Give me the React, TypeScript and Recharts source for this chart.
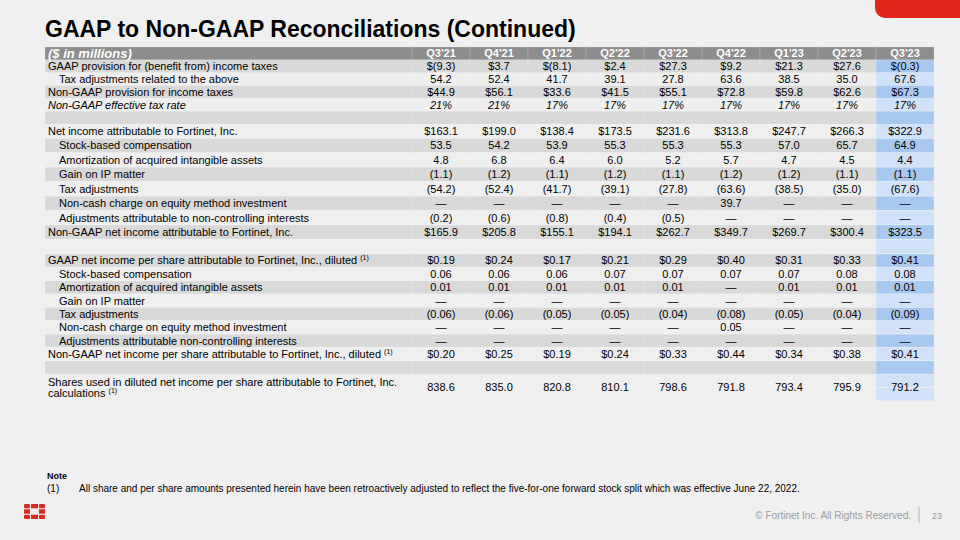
import { ComposedChart, Bar, XAxis, YAxis, Cell, LabelList } from "recharts"

const quarters = ["Q3'21", "Q4'21", "Q1'22", "Q2'22", "Q3'22", "Q4'22", "Q1'23", "Q2'23", "Q3'23"]

// tax provision block
const gaapTaxProvision = [-9.3, 3.7, -8.1, 2.4, 27.3, 9.2, 21.3, 27.6, -0.3]
const taxAdjRelated = [54.2, 52.4, 41.7, 39.1, 27.8, 63.6, 38.5, 35.0, 67.6]
const nonGaapTaxProvision = [44.9, 56.1, 33.6, 41.5, 55.1, 72.8, 59.8, 62.6, 67.3]
const nonGaapTaxRate = [21, 21, 17, 17, 17, 17, 17, 17, 17]

// net income block ($M)
const netIncome = [163.1, 199.0, 138.4, 173.5, 231.6, 313.8, 247.7, 266.3, 322.9]
const stockComp = [53.5, 54.2, 53.9, 55.3, 55.3, 55.3, 57.0, 65.7, 64.9]
const amortization = [4.8, 6.8, 6.4, 6.0, 5.2, 5.7, 4.7, 4.5, 4.4]
const gainOnIp = [-1.1, -1.2, -1.1, -1.2, -1.1, -1.2, -1.2, -1.1, -1.1]
const taxAdjustments = [-54.2, -52.4, -41.7, -39.1, -27.8, -63.6, -38.5, -35.0, -67.6]
const equityCharge = [0, 0, 0, 0, 0, 39.7, 0, 0, 0]
const nciAdjustments = [-0.2, -0.6, -0.8, -0.4, -0.5, 0, 0, 0, 0]
const nonGaapNetIncome = [165.9, 205.8, 155.1, 194.1, 262.7, 349.7, 269.7, 300.4, 323.5]

// per share block
const gaapEps = [0.19, 0.24, 0.17, 0.21, 0.29, 0.40, 0.31, 0.33, 0.41]
const stockCompPs = [0.06, 0.06, 0.06, 0.07, 0.07, 0.07, 0.07, 0.08, 0.08]
const amortizationPs = [0.01, 0.01, 0.01, 0.01, 0.01, 0, 0.01, 0.01, 0.01]
const gainOnIpPs = [0, 0, 0, 0, 0, 0, 0, 0, 0]
const taxAdjustmentsPs = [-0.06, -0.06, -0.05, -0.05, -0.04, -0.08, -0.05, -0.04, -0.09]
const equityChargePs = [0, 0, 0, 0, 0, 0.05, 0, 0, 0]
const nciAdjustmentsPs = [0, 0, 0, 0, 0, 0, 0, 0, 0]
const nonGaapEps = [0.20, 0.25, 0.19, 0.24, 0.33, 0.44, 0.34, 0.38, 0.41]

const dilutedShares = [838.6, 835.0, 820.8, 810.1, 798.6, 791.8, 793.4, 795.9, 791.2]

type Fmt = "usd1" | "num1" | "pct" | "usd2" | "num2"

type Row = {
  key: string
  label?: string
  label2?: string
  values?: number[]
  fmt?: Fmt
  indent?: boolean
  italic?: boolean
  sup?: boolean
  header?: boolean
  cont?: boolean
}

const rows: Row[] = [
  { key: "head", label: "($ in millions)", header: true },
  { key: "gaapTax", label: "GAAP provision for (benefit from) income taxes", values: gaapTaxProvision, fmt: "usd1" },
  { key: "taxRel", label: "Tax adjustments related to the above", values: taxAdjRelated, fmt: "num1", indent: true },
  { key: "ngTax", label: "Non-GAAP provision for income taxes", values: nonGaapTaxProvision, fmt: "usd1" },
  { key: "ngRate", label: "Non-GAAP effective tax rate", values: nonGaapTaxRate, fmt: "pct", italic: true },
  { key: "gap1" },
  { key: "ni", label: "Net income attributable to Fortinet, Inc.", values: netIncome, fmt: "usd1" },
  { key: "sbc", label: "Stock-based compensation", values: stockComp, fmt: "num1", indent: true },
  { key: "amort", label: "Amortization of acquired intangible assets", values: amortization, fmt: "num1", indent: true },
  { key: "ip", label: "Gain on IP matter", values: gainOnIp, fmt: "num1", indent: true },
  { key: "tax", label: "Tax adjustments", values: taxAdjustments, fmt: "num1", indent: true },
  { key: "eq", label: "Non-cash charge on equity method investment", values: equityCharge, fmt: "num1", indent: true },
  { key: "nci", label: "Adjustments attributable to non-controlling interests", values: nciAdjustments, fmt: "num1", indent: true },
  { key: "ngNi", label: "Non-GAAP net income attributable to Fortinet, Inc.", values: nonGaapNetIncome, fmt: "usd1" },
  { key: "gap2" },
  { key: "eps", label: "GAAP net income per share attributable to Fortinet, Inc., diluted", values: gaapEps, fmt: "usd2", sup: true },
  { key: "sbcPs", label: "Stock-based compensation", values: stockCompPs, fmt: "num2", indent: true },
  { key: "amortPs", label: "Amortization of acquired intangible assets", values: amortizationPs, fmt: "num2", indent: true },
  { key: "ipPs", label: "Gain on IP matter", values: gainOnIpPs, fmt: "num2", indent: true },
  { key: "taxPs", label: "Tax adjustments", values: taxAdjustmentsPs, fmt: "num2", indent: true },
  { key: "eqPs", label: "Non-cash charge on equity method investment", values: equityChargePs, fmt: "num2", indent: true },
  { key: "nciPs", label: "Adjustments attributable non-controlling interests", values: nciAdjustmentsPs, fmt: "num2", indent: true },
  { key: "ngEps", label: "Non-GAAP net income per share attributable to Fortinet, Inc., diluted", values: nonGaapEps, fmt: "usd2", sup: true },
  { key: "gap3" },
  { key: "shares", label: "Shares used in diluted net income per share attributable to Fortinet, Inc.", label2: "calculations", values: dilutedShares, fmt: "num1", sup: true },
  { key: "sharesCont", cont: true },
]

const rowByKey = new Map(rows.map((r) => [r.key, r]))
const rowIndex = new Map(rows.map((r, i) => [r.key, i]))

// label column is ~6.3 quarter columns wide
const LABEL_SPAN = 367 / 58
const FONT = "'Liberation Sans', Arial, Helvetica, sans-serif"

const fmt = (v: number, f: Fmt) => {
  if (f === "pct") return `${v}%`
  if (v === 0) return "—"
  const dec = f === "usd2" || f === "num2" ? 2 : 1
  const s = Math.abs(v).toFixed(dec)
  const body = v < 0 ? `(${s})` : s
  return f.startsWith("usd") ? `$${body}` : body
}

const cellFill = (key: string, col: number) => {
  const r = rowByKey.get(key)!
  if (r.header) return "#8d8d8d"
  const i = rowIndex.get(key)!
  const idx = r.cont ? i - 1 : i
  const dark = idx % 2 === 1
  if (col === 8) return dark ? "#a9c8f0" : "#d1e2f8"
  return dark ? "#d9d9d9" : "#efefef"
}

const box = (p: any) => p.viewBox ?? p

const renderRowLabel = (p: any) => {
  const row = rowByKey.get(p.value)
  if (!row || !row.label) return null
  const { x, y, height } = box(p)
  const tx = x + (row.indent ? 14 : 3)
  if (row.header) {
    return (
      <text x={tx} y={y + height / 2} dy="0.36em" fontSize={13} fontWeight="bold" fontStyle="italic" fill="#ffffff" fontFamily={FONT}>
        {row.label}
      </text>
    )
  }
  if (row.label2) {
    const cy = y + height
    return (
      <text x={tx} y={cy - 5.5} dy="0.36em" fontSize={11} fill="#000" fontFamily={FONT}>
        <tspan x={tx}>{row.label}</tspan>
        <tspan x={tx} dy={11}>{row.label2} </tspan>
        <tspan fontSize={7} dy={-4}>(1)</tspan>
      </text>
    )
  }
  return (
    <text x={tx} y={y + height / 2} dy="0.36em" fontSize={11} fill="#000" fontStyle={row.italic ? "italic" : "normal"} fontFamily={FONT}>
      {row.label}
      {row.sup ? " " : null}
      {row.sup ? <tspan fontSize={7} dy={-4}>(1)</tspan> : null}
    </text>
  )
}

const renderCell = (col: number) => (p: any) => {
  const row = rowByKey.get(p.value)
  if (!row) return null
  const { x, y, width, height } = box(p)
  const cx = x + width / 2
  if (row.header) {
    return (
      <text x={cx} y={y + height / 2} dy="0.36em" textAnchor="middle" fontSize={11} fontWeight="bold" fill="#ffffff" fontFamily={FONT}>
        {quarters[col]}
      </text>
    )
  }
  if (!row.values || !row.fmt) return null
  const cy = row.label2 ? y + height : y + height / 2
  return (
    <text x={cx} y={cy} dy="0.36em" textAnchor="middle" fontSize={11} fill="#000" fontStyle={row.italic ? "italic" : "normal"} fontFamily={FONT}>
      {fmt(row.values[col], row.fmt)}
    </text>
  )
}

// one chart per block of the table so each block keeps its own row pitch
function TableBlock({ data, top, height }: { data: Row[]; top: number; height: number }) {
  return (
    <div style={{ position: "absolute", left: 45, top }}>
      <ComposedChart
        layout="vertical"
        width={889}
        height={height}
        data={data}
        margin={{ top: 0, right: 0, bottom: 0, left: 0 }}
        barCategoryGap={0}
        barGap={0}
      >
        <XAxis type="number" hide domain={[0, LABEL_SPAN + quarters.length]} />
        <YAxis type="category" dataKey="key" hide />
        <Bar stackId="row" dataKey={() => LABEL_SPAN} isAnimationActive={false}>
          {data.map((r) => (
            <Cell key={r.key} fill={cellFill(r.key, -1)} stroke="#ffffff" strokeOpacity={0.25} strokeWidth={0.6} />
          ))}
          <LabelList dataKey={(r: Row) => r.key} content={renderRowLabel} />
        </Bar>
        {quarters.map((q, col) => (
          <Bar key={q} stackId="row" dataKey={() => 1} isAnimationActive={false}>
            {data.map((r) => (
              <Cell key={r.key} fill={cellFill(r.key, col)} stroke="#ffffff" strokeOpacity={0.25} strokeWidth={0.6} />
            ))}
            <LabelList dataKey={(r: Row) => r.key} content={renderCell(col)} />
          </Bar>
        ))}
      </ComposedChart>
    </div>
  )
}

function Logo() {
  const c = "#da291c"
  return (
    <g fill={c}>
      <rect x={24} y={504} width={6} height={4.3} rx={1.2} />
      <rect x={31} y={504} width={7} height={4.3} />
      <rect x={39} y={504} width={6} height={4.3} rx={1.2} />
      <rect x={24} y={509.3} width={6} height={4.4} />
      <rect x={39} y={509.3} width={6} height={4.4} />
      <rect x={24} y={514.7} width={6} height={4.3} rx={1.2} />
      <rect x={31} y={514.7} width={7} height={4.3} />
      <rect x={39} y={514.7} width={6} height={4.3} rx={1.2} />
    </g>
  )
}

export default function App() {
  return (
    <div style={{ position: "absolute", left: 0, top: 0, width: 960, height: 540, background: "#f0f0f0", overflow: "hidden", fontFamily: FONT }}>
      <svg width={960} height={540} style={{ position: "absolute", left: 0, top: 0 }}>
        <path d="M875 0 H960 V18 H885 A10 10 0 0 1 875 8 Z" fill="#e2261c" />
        <text x={45} y={37} fontSize={23} fontWeight="bold" fill="#000" fontFamily={FONT}>
          GAAP to Non-GAAP Reconciliations (Continued)
        </text>
        <text x={47} y={479} fontSize={9} fontWeight="bold" fill="#000" fontFamily={FONT}>Note</text>
        <text x={47} y={492} fontSize={10} fill="#000" fontFamily={FONT}>(1)</text>
        <text x={79} y={492} fontSize={10} fill="#000" fontFamily={FONT}>
          All share and per share amounts presented herein have been retroactively adjusted to reflect the five-for-one forward stock split which was effective June 22, 2022.
        </text>
        <Logo />
        <text x={911} y={519} textAnchor="end" fontSize={10} fill="#9c9c9c" fontFamily={FONT}>
          © Fortinet Inc. All Rights Reserved.
        </text>
        <line x1={919} y1={507} x2={919} y2={523} stroke="#b4b4b4" strokeWidth={1} />
        <text x={932} y={519} fontSize={9} fill="#9c9c9c" fontFamily={FONT}>23</text>
      </svg>
      <TableBlock data={rows.slice(0, 6)} top={47} height={77} />
      <TableBlock data={rows.slice(6, 15)} top={124} height={130} />
      <TableBlock data={rows.slice(15)} top={254} height={147} />
    </div>
  )
}
